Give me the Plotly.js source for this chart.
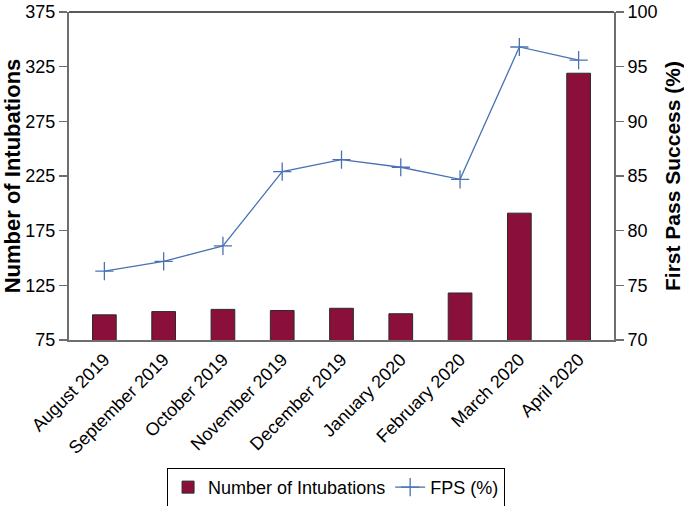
<!DOCTYPE html>
<html>
<head>
<meta charset="utf-8">
<script src="https://cdn.plot.ly/plotly-3.0.1.min.js"></script>
<style>html,body{margin:0;padding:0;background:#fff;}#chart{width:684px;height:506px;}</style>
</head>
<body>
<div id="chart"></div>
<script>
const months = ["August 2019","September 2019","October 2019","November 2019","December 2019","January 2020","February 2020","March 2020","April 2020"];
const intubations = [98, 101, 103, 102, 104, 99, 118, 191, 319];
const fps = [76.3, 77.2, 78.6, 85.4, 86.5, 85.8, 84.7, 96.8, 95.6];

const FONT = "Liberation Sans, Arial, Helvetica, sans-serif";
const axisGray = "#6e6e6e";

const traces = [
  {
    type: "bar", name: "Number of Intubations", x: months, y: intubations,
    marker: {color: "#8a0f3a", line: {color: "#2b2b2b", width: 1}},
    yaxis: "y"
  },
  {
    type: "scatter", mode: "lines+markers", name: "FPS (%)", x: months, y: fps,
    line: {color: "#4a72b3", width: 1.3},
    marker: {symbol: "cross-thin", size: 13, line: {color: "#4a72b3", width: 1.3}},
    yaxis: "y2"
  }
];

const layout = {
  width: 684, height: 506,
  margin: {l: 69, r: 70, t: 12, b: 166, autoexpand: false},
  paper_bgcolor: "#fff", plot_bgcolor: "#fff",
  font: {family: FONT, color: "#000", size: 18},
  bargap: 0.6,
  showlegend: true,
  legend: {
    orientation: "h", x: 0.49, xanchor: "center", y: -0.39, yanchor: "top",
    bordercolor: "#000", borderwidth: 1, font: {size: 18, family: FONT},
    traceorder: "normal"
  },
  xaxis: {
    type: "category", showline: true, linecolor: axisGray, linewidth: 2,
    ticks: "", tickangle: -45, tickfont: {size: 18, family: FONT},
    showgrid: false, zeroline: false, automargin: false, ticklabeloverflow: "allow"
  },
  yaxis: {
    range: [75, 375], dtick: 50, tick0: 75, showline: true, linecolor: axisGray, linewidth: 2,
    ticks: "outside", ticklen: 8, tickcolor: axisGray, tickwidth: 1.5,
    showgrid: false, zeroline: false, tickfont: {size: 18, family: FONT}, automargin: false,
    ticklabeloverflow: "allow",
    title: {text: "Number of Intubations", font: {size: 22, family: FONT, weight: "bold"}, standoff: 6}
  },
  yaxis2: {
    range: [70, 100], dtick: 5, overlaying: "y", side: "right", showline: true,
    linecolor: axisGray, linewidth: 2, ticks: "outside", ticklen: 8, tickcolor: axisGray, tickwidth: 1.5,
    showgrid: false, zeroline: false, tickfont: {size: 18, family: FONT}, automargin: false,
    ticklabeloverflow: "allow",
    title: {text: "First Pass Success (%)", font: {size: 21, family: FONT, weight: "bold"}, standoff: 18}
  },
  shapes: [
    {type: "line", xref: "paper", yref: "paper", x0: 0, x1: 1, y0: 1, y1: 1, line: {color: "#222", width: 1.5}}
  ]
};

Plotly.newPlot("chart", traces, layout, {displayModeBar: false, staticPlot: true});
</script>
</body>
</html>
